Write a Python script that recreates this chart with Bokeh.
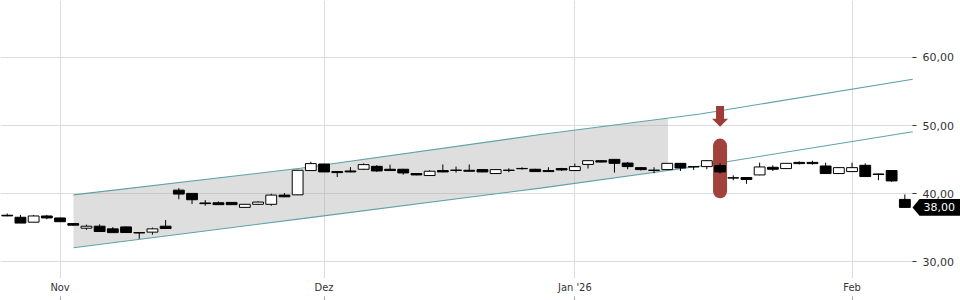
import numpy as np
from bokeh.plotting import figure
from bokeh.models import (ColumnDataSource, Range1d, LinearAxis, FixedTicker)
from bokeh.core.properties import value
from bokeh.embed import file_html
from bokeh.resources import INLINE

# ---------------- data (trading-day index 0 = 28 Oct 2025) ----------------
opens = [36.85, 36.55, 35.83, 36.74, 36.45, 35.62, 34.95, 35.24, 34.85, 35.14,
         34.30, 34.37, 35.24, 40.53, 40.05, 38.65, 38.68, 38.73, 38.00, 38.45,
         38.45, 39.80, 39.84, 43.40, 44.36, 43.25, 43.34, 43.59, 44.02, 43.59,
         43.59, 42.96, 42.67, 43.40, 43.47, 43.44, 43.54, 42.96, 43.46, 43.71,
         43.59, 43.40, 43.69, 43.40, 44.30, 44.85, 45.04, 44.50, 43.83, 43.46,
         43.54, 44.46, 43.98, 43.98, 44.13, 42.34, 42.38, 42.76, 43.88, 43.69,
         44.60, 44.60, 44.07, 42.96, 43.25, 44.17, 42.90, 43.40, 39.17]
highs = [37.10, 36.90, 36.90, 36.90, 36.50, 35.70, 35.47, 35.50, 35.10, 35.20,
         34.35, 35.04, 36.15, 40.82, 40.05, 39.07, 38.88, 38.75, 38.50, 38.90,
         40.00, 40.10, 43.50, 44.70, 44.40, 43.30, 43.90, 44.45, 44.20, 44.27,
         43.65, 43.00, 43.44, 44.30, 43.98, 44.30, 43.60, 43.60, 43.73, 43.88,
         43.65, 43.88, 43.80, 44.42, 44.90, 44.95, 45.10, 44.65, 43.90, 43.88,
         44.50, 44.50, 44.00, 44.90, 44.46, 42.70, 42.40, 44.56, 44.17, 44.50,
         44.75, 44.85, 44.56, 43.90, 44.56, 44.46, 42.95, 43.40, 39.90]
lows = [36.70, 35.70, 35.80, 36.25, 35.90, 35.35, 34.70, 34.45, 34.30, 34.30,
        33.40, 34.00, 34.90, 39.20, 38.50, 38.24, 38.38, 38.38, 37.95, 38.35,
        38.24, 39.50, 39.80, 43.40, 43.20, 42.45, 43.15, 43.48, 43.20, 43.35,
        42.80, 42.70, 42.60, 43.15, 43.10, 43.25, 43.15, 42.95, 43.15, 43.54,
        43.20, 43.20, 43.35, 43.35, 43.70, 44.60, 43.10, 43.60, 43.40, 43.00,
        43.50, 43.34, 43.50, 43.60, 42.96, 41.97, 41.45, 42.70, 43.34, 43.65,
        44.30, 44.27, 42.96, 42.90, 43.20, 42.50, 41.98, 41.75, 38.00]
closes = [36.75, 35.70, 36.74, 36.45, 35.90, 35.39, 35.24, 34.46, 34.30, 34.31,
          34.25, 34.85, 34.90, 39.95, 39.12, 38.55, 38.40, 38.40, 38.45, 38.78,
          39.80, 39.55, 43.44, 44.42, 43.20, 43.10, 43.20, 44.27, 43.34, 43.40,
          43.05, 42.76, 43.30, 43.20, 43.42, 43.30, 43.20, 43.54, 43.42, 43.67,
          43.25, 43.25, 43.49, 43.98, 44.85, 44.65, 44.46, 43.98, 43.54, 43.42,
          44.46, 43.78, 43.93, 44.85, 43.20, 42.30, 42.09, 43.93, 43.59, 44.46,
          44.42, 44.42, 42.96, 43.83, 43.83, 42.52, 42.82, 41.88, 38.00]

x_tick_idx = [4, 24, 43, 64]
x_tick_labels = ["Nov", "Dez", "Jan '26", "Feb"]
y_ticks = [30, 40, 50, 60]
y_tick_labels = ["30,00", "40,00", "50,00", "60,00"]

# trend channel anchors (trading-day index, price)
chan_x = [5.02, 22.2, 40.4, 52.5, 68.6]
chan_upper = [39.84, 43.73, 48.68, 51.70, 56.80]
chan_lower = [32.08, 36.31, 40.82, 44.07, 49.08]
shade_end = 50.05

signal_idx = 54
last_price = 38.00
last_label = "38,00"

# ---------------- figure ----------------
W, H = 960, 300
PLOT_W, FRAME_H = 912, 280          # price area width, frame height
x0 = -0.51
x_end = 68.58                        # index at the right edge of the price area
ppx = PLOT_W / (x_end - x0)          # pixels per index
x1 = x0 + W / ppx                    # frame spans the whole width
y0, y1 = 27.57, 68.34
ppy = FRAME_H / (y1 - y0)            # pixels per price unit

p = figure(width=W, height=H, x_range=Range1d(x0, x1), y_range=Range1d(y0, y1),
           output_backend="svg", toolbar_location=None, y_axis_location="right",
           min_border_left=0, min_border_top=0, min_border_right=0,
           min_border_bottom=H - FRAME_H)
p.outline_line_color = None
p.background_fill_color = "white"
p.border_fill_color = "white"

grid_col = "#dcdcdc"
p.xgrid.ticker = FixedTicker(ticks=x_tick_idx)
p.ygrid.ticker = FixedTicker(ticks=y_ticks)
p.xgrid.grid_line_color = grid_col
p.ygrid.grid_line_color = grid_col

# x axis: labels (no ticks) then a second axis with tick marks only
xa = p.xaxis[0]
xa.ticker = FixedTicker(ticks=x_tick_idx)
xa.major_label_overrides = {i: s for i, s in zip(x_tick_idx, x_tick_labels)}
xa.axis_line_color = None
xa.major_tick_in = 0
xa.major_tick_out = 0
xa.minor_tick_line_color = None
xa.major_label_standoff = 2
xa.major_label_text_font = "DejaVu Sans Condensed, DejaVu Sans"
xa.major_label_text_font_size = "11px"
xa.major_label_text_color = "#333333"

xa2 = LinearAxis(ticker=FixedTicker(ticks=x_tick_idx),
                 major_label_overrides={i: "" for i in x_tick_idx},
                 major_label_text_font_size="1px", major_label_standoff=0,
                 axis_line_color=None, major_tick_in=0, major_tick_out=4,
                 major_tick_line_color="#aaaaaa", minor_tick_line_color=None)
p.add_layout(xa2, "below")

# price axis drawn at the right edge of the price area
ya = p.yaxis[0]
ya.fixed_location = x_end
ya.ticker = FixedTicker(ticks=y_ticks)
ya.major_label_overrides = {v: s for v, s in zip(y_ticks, y_tick_labels)}
ya.axis_line_color = None
ya.major_tick_in = 0
ya.major_tick_out = 4
ya.major_tick_line_color = "#333333"
ya.minor_tick_line_color = None
ya.major_label_standoff = 6
ya.major_label_text_font = "DejaVu Sans"
ya.major_label_text_font_size = "11px"
ya.major_label_text_color = "#333333"

# blank strip right of the price area (grid lines stop at its edge)
p.quad(left=[x_end + 0.5 / ppx], right=[x1 + 1], bottom=[y0 - 5], top=[y1 + 5],
       fill_color="white", line_color=None)

# ---------------- trend channel ----------------
cx = np.array(chan_x)
cu = np.array(chan_upper)
cl = np.array(chan_lower)
mask = cx < shade_end
sx = np.concatenate([cx[mask], [shade_end]])
su = np.concatenate([cu[mask], [np.interp(shade_end, cx, cu)]])
sl = np.concatenate([cl[mask], [np.interp(shade_end, cx, cl)]])
p.varea(x=sx, y1=sl, y2=su, fill_color="#a8a8a8", fill_alpha=0.38)
chan_col = "#5fa2a8"
p.line(cx, cu, line_color=chan_col, line_width=1.1)
p.line(cx, cl, line_color=chan_col, line_width=1.1)

# ---------------- signal marker (behind candles) ----------------
hi = np.array(highs); lo = np.array(lows)
red = "#9e3c36"
mid = (hi[signal_idx] + lo[signal_idx]) / 2
half = 30 / ppy
cap = 7 / ppy
p.segment(x0=[signal_idx], y0=[mid - half + cap], x1=[signal_idx],
          y1=[mid + half - cap], line_color=red, line_width=14,
          line_cap="round", line_alpha=0.97)
arrow_tip = mid + half + 12 / ppy
head_base = arrow_tip + 8 / ppy
shaft_top = head_base + 13 / ppy
p.vbar(x=[signal_idx], bottom=[head_base - 0.5 / ppy], top=[shaft_top],
       width=8 / ppx, fill_color=red, line_color=None)
p.patch(x=[signal_idx - 8 / ppx, signal_idx + 8 / ppx, signal_idx],
        y=[head_base, head_base, arrow_tip], fill_color=red, line_color=None)

# ---------------- candles ----------------
idx = np.arange(len(opens))
o = np.array(opens); c = np.array(closes)
up = c >= o
src = ColumnDataSource(dict(
    x=idx, high=hi, low=lo,
    top=np.maximum(o, c), bottom=np.minimum(o, c),
    fill=np.where(up, "white", "black").tolist()))
p.segment(x0="x", y0="low", x1="x", y1="high", source=src,
          line_color="black", line_width=1)
p.vbar(x="x", top="top", bottom="bottom", width=0.82, source=src,
       fill_color="fill", line_color="black", line_width=1)

# ---------------- last price badge ----------------
bh = 8.5 / ppy
p.patch(x=[x_end, x_end + 7 / ppx, x1 + 1, x1 + 1, x_end + 7 / ppx],
        y=[last_price, last_price + bh, last_price + bh,
           last_price - bh, last_price - bh],
        fill_color="black", line_color=None)
p.text(x=[x_end + 11 / ppx], y=[last_price], text=[last_label],
       text_color="white", text_font=value("DejaVu Sans"),
       text_font_size="11px", text_baseline="middle", text_align="left")

open("out.html", "w").write(file_html(p, INLINE))
